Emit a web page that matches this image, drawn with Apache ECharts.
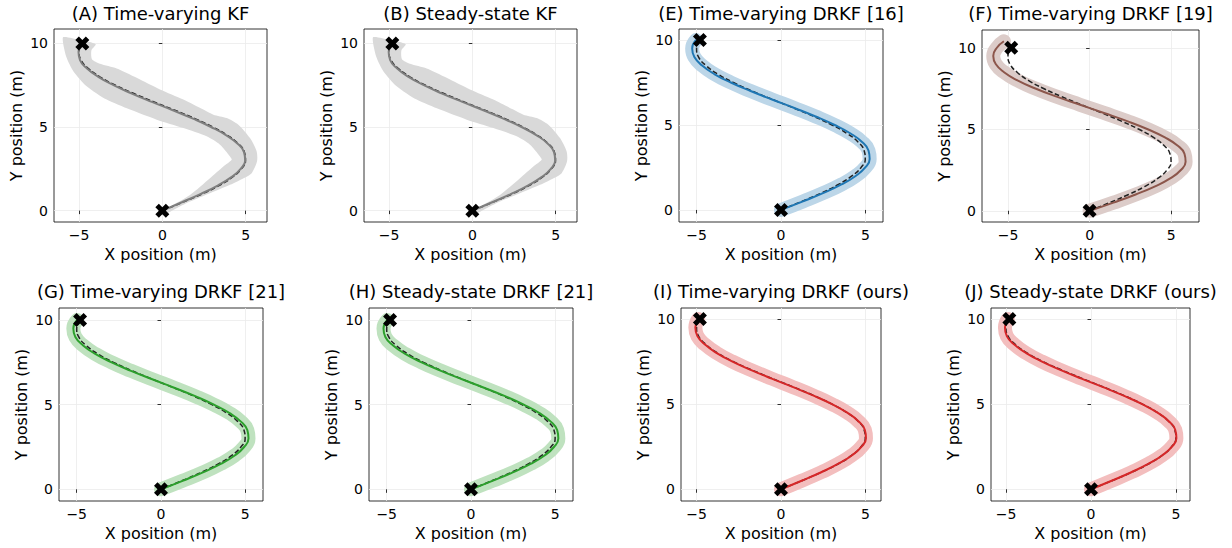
<!DOCTYPE html>
<html>
<head>
<meta charset="utf-8">
<title>Trajectory tracking</title>
<script src="https://cdn.jsdelivr.net/npm/echarts@6.0.0/dist/echarts.min.js"></script>
<style>
  html, body { margin: 0; padding: 0; background: #fff; }
  #chart { width: 1232px; height: 548px; }
</style>
</head>
<body>
<div id="chart"></div>
<script>
const pathY = [0, 0.5, 1, 1.5, 2, 2.5, 3, 3.5, 4, 4.5, 5, 5.5, 6, 6.5, 7, 7.5, 8, 8.5, 9, 9.5, 10];
// true trajectory (dashed)
const trueX = [0, 1.23, 2.39, 3.40, 4.20, 4.74, 4.99, 4.92, 4.56, 3.91, 3.02, 1.95, 0.75, -0.50, -1.71, -2.82, -3.75, -4.44, -4.88, -5.00, -4.81];
// estimated trajectories
const kfTvX = [0, 1.17, 2.31, 3.32, 4.14, 4.70, 4.97, 4.90, 4.52, 3.84, 2.92, 1.84, 0.63, -0.63, -1.83, -2.93, -3.84, -4.52, -4.94, -5.03, -4.86];
const kfSsX = [0, 1.19, 2.33, 3.33, 4.15, 4.71, 4.97, 4.90, 4.53, 3.86, 2.95, 1.86, 0.66, -0.60, -1.81, -2.91, -3.83, -4.51, -4.93, -5.02, -4.85];
const drkf16X = [0, 1.30, 2.52, 3.58, 4.42, 4.99, 5.25, 5.18, 4.80, 4.12, 3.18, 2.05, 0.79, -0.53, -1.80, -2.97, -3.95, -4.67, -5.13, -5.26, -5.03];
const drkf19Y = [0, 0.5, 1, 1.5, 2, 2.5, 3, 3.5, 4, 4.5, 5, 5.5, 6, 6.5, 7, 7.5, 8, 8.5, 9, 9.5, 10, 10.4];
const drkf19X = [0, 1.46, 2.82, 4.01, 4.96, 5.59, 5.88, 5.81, 5.38, 4.61, 3.56, 2.30, 0.88, -0.58, -2.02, -3.32, -4.42, -5.24, -5.75, -5.90, -5.68, -5.25];
const drkf21TvX = [0, 1.28, 2.49, 3.54, 4.37, 4.93, 5.19, 5.12, 4.74, 4.07, 3.14, 2.03, 0.78, -0.52, -1.78, -2.93, -3.90, -4.62, -5.08, -5.20, -4.97];
const drkf21SsX = [0, 1.27, 2.48, 3.53, 4.36, 4.92, 5.18, 5.11, 4.73, 4.06, 3.13, 2.02, 0.77, -0.53, -1.78, -2.93, -3.90, -4.62, -5.08, -5.19, -4.96];
const oursTvX = [0, 1.22, 2.38, 3.40, 4.21, 4.77, 5.03, 4.96, 4.58, 3.92, 3.02, 1.93, 0.72, -0.55, -1.76, -2.87, -3.80, -4.50, -4.95, -5.07, -4.90];
const oursSsX = [0, 1.21, 2.37, 3.39, 4.20, 4.76, 5.02, 4.95, 4.57, 3.91, 3.01, 1.92, 0.71, -0.56, -1.77, -2.88, -3.81, -4.51, -4.95, -5.06, -4.89];
// spread of the plain KF estimates (outline of the grey region)
const kfBandX = [-5.94, -4.95, -4.00, -4.25, -4.22, -3.74, -2.74, -1.54, -0.14, 1.26, 2.46, 3.06, 3.86, 4.56, 5.26, 5.66, 5.68, 5.36, 5.00, 4.06, 2.86, 1.66, 0.66, 0.06, -0.24, 0.46, 1.66, 2.86, 3.66, 4.16, 4.06, 3.46, 2.66, 1.26, -0.34, -1.94, -3.34, -4.54, -5.34, -5.74, -5.94];
const kfBandY = [10.38, 10.20, 9.95, 9.60, 9.05, 8.78, 8.50, 7.94, 7.24, 6.64, 6.04, 5.74, 5.54, 5.14, 4.34, 3.54, 2.94, 2.24, 2.00, 1.54, 1.04, 0.54, 0.04, -0.26, -0.16, 0.24, 0.94, 1.94, 2.64, 3.04, 3.24, 3.94, 4.44, 4.94, 5.44, 6.04, 6.64, 7.44, 8.34, 9.14, 9.94];
// start and goal
const markerX = [0, -4.8];
const markerY = [0, 10];
const titles = ['(A) Time-varying KF', '(B) Steady-state KF', '(E) Time-varying DRKF [16]', '(F) Time-varying DRKF [19]',
  '(G) Time-varying DRKF [21]', '(H) Steady-state DRKF [21]', '(I) Time-varying DRKF (ours)', '(J) Steady-state DRKF (ours)'];
const xTicks = [-5, 0, 5];
const yTicks = [0, 5, 10];

const FONT = 'DejaVu Sans';
const X_MARK = 'path://M2.5,0 L5,2.5 L7.5,0 L10,2.5 L7.5,5 L10,7.5 L7.5,10 L5,7.5 L2.5,10 L0,7.5 L2.5,5 L0,2.5 Z';

function pairs(xs, ys) {
  return xs.map((x, i) => [x, ys[i]]);
}

// layout of each panel, in pixels, and axis limits
const panels = [
  { left: 54, top: 29, width: 213, height: 193, x: [-6.5, 6.28], y: [-0.68, 10.86], est: pairs(kfTvX, pathY), line: '#7f7f7f', band: '#d9d9d9', kf: true },
  { left: 364, top: 29, width: 213, height: 193, x: [-6.5, 6.28], y: [-0.68, 10.86], est: pairs(kfSsX, pathY), line: '#7f7f7f', band: '#d9d9d9', kf: true },
  { left: 679, top: 29, width: 204, height: 193, x: [-6.04, 6.04], y: [-0.71, 10.65], est: pairs(drkf16X, pathY), line: '#1f77b4', band: '#bcd6e8' },
  { left: 982, top: 30, width: 217, height: 192, x: [-6.59, 6.70], y: [-0.69, 11.09], est: pairs(drkf19X, drkf19Y), line: '#8c564b', band: '#dcccc9' },
  { left: 59, top: 308, width: 204, height: 193, x: [-6.05, 6.05], y: [-0.69, 10.71], est: pairs(drkf21TvX, pathY), line: '#2ca02c', band: '#bfe2bf' },
  { left: 369, top: 308, width: 204, height: 193, x: [-6.05, 6.05], y: [-0.69, 10.71], est: pairs(drkf21SsX, pathY), line: '#2ca02c', band: '#bfe2bf' },
  { left: 681, top: 308, width: 200, height: 193, x: [-5.92, 5.92], y: [-0.69, 10.65], est: pairs(oursTvX, pathY), line: '#d62728', band: '#f3bebe' },
  { left: 991, top: 308, width: 199, height: 193, x: [-5.88, 5.82], y: [-0.69, 10.65], est: pairs(oursSsX, pathY), line: '#d62728', band: '#f3bebe' }
];

const minus = v => String(v).replace('-', '\u2212');
const truePath = pairs(trueX, pathY);
const markers = pairs(markerX, markerY);

const grid = [], xAxis = [], yAxis = [], title = [], series = [];

panels.forEach((p, i) => {
  grid.push({
    left: p.left, top: p.top, width: p.width, height: p.height,
    show: true, borderColor: '#000', borderWidth: 0.8, backgroundColor: 'transparent',
    outerBoundsMode: 'none'
  });
  title.push({
    text: titles[i], left: p.left + p.width / 2, top: p.top < 100 ? 4 : 282,
    textAlign: 'center', padding: 0,
    textStyle: { fontFamily: FONT, fontSize: 18, fontWeight: 'normal', color: '#000' }
  });
  const common = {
    gridIndex: i, type: 'value',
    axisLine: { show: false },
    axisTick: { show: true, inside: false, length: 3.5, lineStyle: { color: '#000', width: 0.8 } },
    axisLabel: { fontFamily: FONT, fontSize: 14, color: '#000', margin: 6, formatter: minus },
    splitLine: { show: true, lineStyle: { color: '#ebebeb', width: 0.8 } },
    nameLocation: 'middle',
    nameTextStyle: { fontFamily: FONT, fontSize: 16, color: '#000' }
  };
  xAxis.push(Object.assign({}, common, {
    min: p.x[0], max: p.x[1], name: 'X position (m)', nameGap: 24,
    axisTick: Object.assign({}, common.axisTick, { customValues: xTicks }),
    axisLabel: Object.assign({}, common.axisLabel, { customValues: xTicks })
  }));
  yAxis.push(Object.assign({}, common, {
    min: p.y[0], max: p.y[1], name: 'Y position (m)', nameGap: 30,
    axisTick: Object.assign({}, common.axisTick, { customValues: yTicks }),
    axisLabel: Object.assign({}, common.axisLabel, { customValues: yTicks })
  }));

  if (p.kf) {
    series.push({
      type: 'custom', xAxisIndex: i, yAxisIndex: i, silent: true, z: 1,
      data: [[0, 0]],
      renderItem: function (params, api) {
        const pts = kfBandX.map((x, k) => api.coord([x, kfBandY[k]]));
        return { type: 'polygon', shape: { points: pts, smooth: 0.25 }, style: { fill: p.band } };
      }
    });
  } else {
    series.push({
      type: 'line', xAxisIndex: i, yAxisIndex: i, data: p.est, smooth: true,
      showSymbol: false, silent: true, z: 1,
      lineStyle: { color: p.band, width: 14, cap: 'round', join: 'round' }
    });
  }
  series.push({
    type: 'line', xAxisIndex: i, yAxisIndex: i, data: truePath, smooth: true,
    showSymbol: false, silent: true, z: 2,
    lineStyle: { color: '#222', width: 1.5, type: [5, 2.5] }
  });
  series.push({
    type: 'line', xAxisIndex: i, yAxisIndex: i, data: p.est, smooth: true,
    showSymbol: false, silent: true, z: 3,
    lineStyle: { color: p.line, width: 2 }
  });
  series.push({
    type: 'scatter', xAxisIndex: i, yAxisIndex: i, data: markers,
    symbol: X_MARK, symbolSize: 14, silent: true, z: 4,
    itemStyle: { color: '#000', opacity: 1 }
  });
});

const chart = echarts.init(document.getElementById('chart'), null, { renderer: 'svg' });
chart.setOption({
  animation: false,
  backgroundColor: '#fff',
  title: title,
  grid: grid,
  xAxis: xAxis,
  yAxis: yAxis,
  series: series
});
window.addEventListener('resize', chart.resize);
</script>
</body>
</html>
